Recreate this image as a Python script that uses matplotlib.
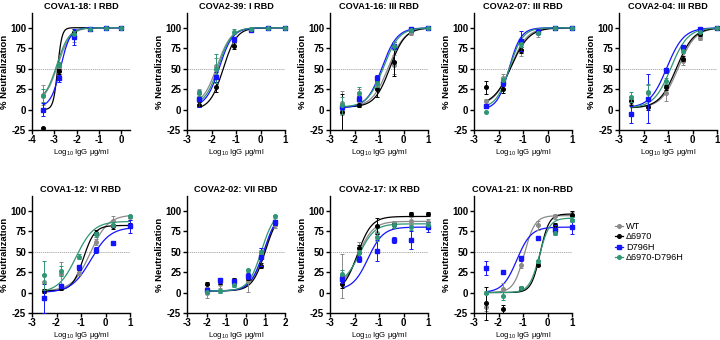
import numpy as np
import matplotlib
matplotlib.use("Agg")
import matplotlib.pyplot as plt
from matplotlib.lines import Line2D

plt.rcParams['font.family'] = ['Liberation Sans', 'DejaVu Sans']
plt.rcParams['axes.unicode_minus'] = False
plt.rcParams['mathtext.fontset'] = 'custom'
plt.rcParams['mathtext.rm'] = 'Liberation Sans'
plt.rcParams['mathtext.default'] = 'regular'

series = ['WT', 'Δ6970', 'D796H', 'Δ6970-D796H']
colors = ['#8a8a8a', '#000000', '#1414ff', '#2f9676']
markers = ['o', 'o', 's', 'o']

titles = ['COVA1-18: I RBD', 'COVA2-39: I RBD', 'COVA1-16: III RBD', 'COVA2-07: III RBD',
          'COVA2-04: III RBD', 'COVA1-12: VI RBD', 'COVA2-02: VII RBD', 'COVA2-17: IX RBD',
          'COVA1-21: IX non-RBD']

# log10 IgG concentrations per panel
x_std = [-2.5, -1.8, -1.1, -0.4, 0.3, 1.0]
x_cova1_18 = [-3.5, -2.8, -2.1, -1.4, -0.7, 0.0]
x_cova2_02 = [-2.0, -1.3, -0.6, 0.1, 0.8, 1.5]

# % neutralization, rows: WT, Δ6970, D796H, Δ6970-D796H
y_cova1_18 = [[18, 52, 90, 98, 100, 100], [-23, 47, 95, 99, 100, 100],
              [0, 38, 89, 98, 100, 100], [17, 55, 92, 98, 100, 100]]
y_cova2_39 = [[20, 53, 83, 98, 100, 100], [6, 28, 78, 97, 100, 100],
              [13, 40, 86, 97, 100, 100], [20, 50, 95, 99, 100, 100]]
y_cova1_16 = [[8, 17, 30, 55, 94, 100], [-3, 5, 25, 58, 97, 100],
              [3, 13, 38, 78, 99, 100], [5, 20, 32, 78, 97, 100]]
y_cova2_07 = [[10, 38, 72, 93, 100, 100], [27, 25, 73, 95, 100, 100],
              [4, 32, 84, 95, 100, 100], [-3, 36, 80, 94, 100, 100]]
y_cova2_04 = [[12, 20, 20, 59, 88, 100], [10, 3, 27, 62, 92, 100],
              [-6, 13, 48, 76, 98, 100], [15, 21, 35, 72, 95, 100]]
y_cova1_12 = [[13, 23, 24, 62, 88, 92], [2, 5, 30, 73, 81, 82],
              [-7, 8, 31, 52, 61, 81], [21, 26, 44, 71, 83, 93]]
y_cova2_02 = [[0, 10, 12, 14, 48, 82], [11, 14, 15, 18, 33, 86],
              [3, 15, 14, 20, 43, 86], [1, 2, 9, 27, 50, 93]]
y_cova2_17 = [[20, 50, 73, 85, 88, 86], [11, 54, 81, 82, 96, 96],
              [16, 41, 51, 64, 64, 80], [23, 48, 68, 82, 80, 83]]
y_cova1_21 = [[-18, 4, 34, 82, 93, 95], [-13, -20, 5, 34, 82, 95],
              [30, 25, 42, 67, 77, 80], [0, -4, 6, 38, 73, 89]]

# SD error bars
e_cova1_18 = [[12, 5, 8, 2, 0, 0], [0, 3, 0, 0, 0, 0], [8, 4, 10, 0, 0, 0], [8, 3, 4, 0, 0, 0]]
e_cova2_39 = [[5, 10, 5, 0, 0, 0], [3, 6, 4, 0, 0, 0], [10, 6, 3, 0, 0, 0], [4, 18, 3, 0, 0, 0]]
e_cova1_16 = [[15, 8, 5, 12, 3, 0], [22, 2, 10, 17, 2, 0], [3, 3, 4, 4, 2, 0], [10, 7, 5, 5, 2, 0]]
e_cova2_07 = [[3, 5, 6, 4, 0, 0], [8, 5, 4, 2, 0, 0], [2, 3, 12, 3, 0, 0], [0, 3, 4, 2, 0, 0]]
e_cova2_04 = [[5, 10, 10, 4, 3, 0], [5, 3, 3, 3, 2, 0], [10, 30, 3, 3, 2, 0], [6, 10, 4, 3, 2, 0]]
e_cova1_12 = [[10, 14, 3, 4, 5, 3], [2, 2, 3, 3, 3, 3], [18, 3, 3, 4, 2, 8], [18, 6, 3, 3, 3, 2]]
e_cova2_02 = [[7, 5, 4, 13, 6, 3], [2, 3, 3, 3, 3, 3], [3, 3, 3, 4, 11, 3], [2, 2, 2, 2, 2, 2]]
e_cova2_17 = [[27, 12, 8, 3, 4, 4], [5, 4, 10, 3, 2, 3], [4, 4, 13, 4, 11, 6], [4, 4, 5, 3, 3, 3]]
e_cova1_21 = [[5, 8, 4, 6, 3, 3], [20, 5, 2, 2, 3, 5], [8, 2, 3, 2, 5, 8], [2, 5, 2, 2, 3, 3]]

# four-parameter logistic fit: bottom, top, logIC50, Hill slope
f_cova1_18 = [[8, 100, -2.85, 1.5], [0, 100, -2.85, 4.5], [3, 100, -2.72, 2.0], [10, 100, -2.88, 1.6]]
f_cova2_39 = [[5, 100, -1.78, 1.5], [0, 100, -1.52, 1.6], [3, 100, -1.68, 1.6], [5, 100, -1.72, 1.6]]
f_cova1_16 = [[3, 100, -0.62, 1.3], [3, 100, -0.55, 1.4], [2, 100, -0.88, 1.4], [3, 100, -0.82, 1.35]]
f_cova2_07 = [[5, 100, -1.5, 1.3], [5, 100, -1.48, 1.2], [0, 100, -1.57, 1.8], [2, 100, -1.55, 1.6]]
f_cova2_04 = [[2, 100, -0.58, 1.25], [2, 100, -0.65, 1.25], [2, 100, -1.05, 1.25], [2, 100, -0.88, 1.25]]
f_cova1_12 = [[2, 95, -0.62, 1.2], [2, 82, -0.9, 1.9], [0, 80, -0.6, 1.1], [0, 87, -1.2, 1.2]]
f_cova2_02 = [[2, 100, 0.95, 1.25], [2, 100, 1.0, 1.3], [2, 100, 0.92, 1.25], [2, 100, 0.8, 1.3]]
f_cova2_17 = [[5, 87, -1.85, 1.4], [0, 93, -1.88, 1.5], [3, 80, -1.45, 1.4], [10, 84, -1.8, 1.4]]
f_cova1_21 = [[0, 94, -0.95, 2.0], [0, 96, -0.3, 2.4], [0, 80, -1.25, 1.5], [0, 91, -0.33, 2.1]]

xs_list = [x_cova1_18, x_std, x_std, x_std, x_std, x_std, x_cova2_02, x_std, x_std]
ys_list = [y_cova1_18, y_cova2_39, y_cova1_16, y_cova2_07, y_cova2_04,
           y_cova1_12, y_cova2_02, y_cova2_17, y_cova1_21]
es_list = [e_cova1_18, e_cova2_39, e_cova1_16, e_cova2_07, e_cova2_04,
           e_cova1_12, e_cova2_02, e_cova2_17, e_cova1_21]
fs_list = [f_cova1_18, f_cova2_39, f_cova1_16, f_cova2_07, f_cova2_04,
           f_cova1_12, f_cova2_02, f_cova2_17, f_cova1_21]
xlims = [(-4, 0.4), (-3, 1), (-3, 1), (-3, 1), (-3, 1), (-3, 1), (-3, 2), (-3, 1), (-3, 1)]
xticks = [[-4, -3, -2, -1, 0], [-3, -2, -1, 0, 1], [-3, -2, -1, 0, 1], [-3, -2, -1, 0, 1],
          [-3, -2, -1, 0, 1], [-3, -2, -1, 0, 1], [-3, -2, -1, 0, 1, 2], [-3, -2, -1, 0, 1],
          [-3, -2, -1, 0, 1]]

W, H = 720, 340
fig = plt.figure(figsize=(7.2, 3.4), dpi=100)
lefts_top = [32, 187, 330, 474, 619]
lefts_bot = [32, 187, 330, 474]
pw, ph = 98, 117
pos = [(l, 130) for l in lefts_top] + [(l, 313) for l in lefts_bot]

def logistic(x, b, t, c, h):
    return b + (t - b) / (1 + 10 ** ((c - x) * h))

for i in range(9):
    l, bot = pos[i]
    ax = fig.add_axes([l / W, (H - bot) / H, pw / W, ph / H])
    x = np.array(xs_list[i])
    ax.axhline(50, color='#a0a0a0', lw=0.6, ls=(0, (1.5, 1)), zorder=0)
    for s in range(4):
        b, t, c, h = fs_list[i][s]
        xx = np.linspace(x.min(), x.max(), 200)
        ax.plot(xx, logistic(xx, b, t, c, h), color=colors[s], lw=0.9, zorder=2 + s * 0.1)
        ax.errorbar(x, ys_list[i][s], yerr=es_list[i][s], fmt=markers[s], color=colors[s],
                    ms=2.6, elinewidth=0.7, capsize=1.6, capthick=0.7, clip_on=False,
                    zorder=3 + s * 0.1)
    ax.set_xlim(*xlims[i])
    ax.set_ylim(-25, 118)
    ax.set_xticks(xticks[i])
    ax.set_yticks([-25, 0, 25, 50, 75, 100])
    for sp in ['top', 'right']:
        ax.spines[sp].set_visible(False)
    for sp in ['left', 'bottom']:
        ax.spines[sp].set_linewidth(1.0)
    ax.tick_params(direction='out', length=3, width=1.0, pad=1.2, labelsize=7)
    ax.tick_params(axis='x', pad=0.6)
    for lab in ax.get_xticklabels() + ax.get_yticklabels():
        lab.set_fontweight('bold')
    ax.set_title(titles[i], fontsize=6.6, fontweight='bold', pad=3)
    ax.set_ylabel('% Neutralization', fontsize=6.8, fontweight='bold', labelpad=1)
    ax.set_xlabel('Log$_{10}$ IgG µg/ml', fontsize=5.6, labelpad=1.5)

handles = [Line2D([0], [0], color=colors[s], marker=markers[s], ms=2.6, lw=0.9) for s in range(4)]
fig.legend(handles, series, loc='upper left', bbox_to_anchor=(615 / W, 1 - 222 / H),
           frameon=False, fontsize=6.6, handlelength=0.9, handletextpad=0.3,
           labelspacing=0.15, borderaxespad=0, borderpad=0)

fig.savefig('out.png', dpi=100)
